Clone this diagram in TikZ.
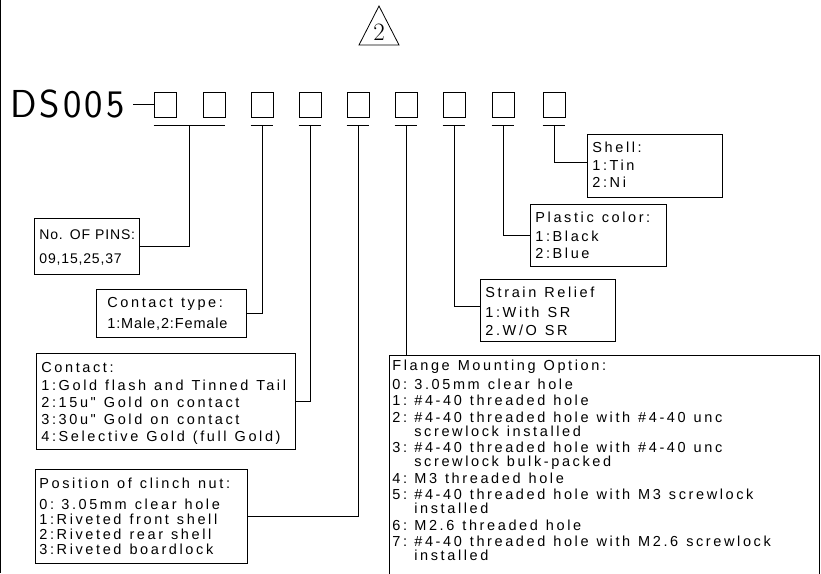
\documentclass[tikz,border=0pt]{standalone}
\usepackage{fontspec}
\newfontfamily\cadfont{Liberation Sans}[LetterSpace=18]
\newfontfamily\cadtight{Liberation Sans}[LetterSpace=6]
\newfontfamily\dsfont{Latin Modern Sans}[LetterSpace=8]
\newcommand\widesp{\setlength{\spaceskip}{8pt plus 1pt}}
\newcommand\narrowsp{\setlength{\spaceskip}{5pt plus 1pt}}
\usetikzlibrary{calc}
\begin{document}
\begin{tikzpicture}[x=1pt,y=-1pt,line width=0.8pt,
  cell/.style={draw,minimum width=22pt,minimum height=25pt,inner sep=0pt},
  infobox/.style={draw,anchor=north west,inner sep=0pt},
  boxtext/.style={anchor=base west,inner sep=0pt,align=left,text width=420pt,
    font=\cadfont\fontsize{14.5}{17}\selectfont}]
\useasboundingbox (0,0) rectangle (821,573);
\clip (0,0) rectangle (821,573);
% left border
\draw (0.5,0) -- (0.5,573);
% revision triangle
\draw (379,6) -- (359,45) -- (399,45) -- cycle;
\node[inner sep=0pt,font=\rmfamily\fontsize{25}{25}\selectfont] (rev) at (379,32) {2};
% part number
\node[anchor=base west,inner sep=0pt,font=\dsfont\fontsize{39}{39}\selectfont] (ds) at (10,117) {DS005};
\foreach \i/\x in {1/165,2/214,3/262,4/310,5/358,6/406,7/454,8/503,9/554}
  \node[cell] (b\i) at (\x,104.5) {};
\draw[shorten <=8pt] (ds.east |- b1.west) -- (b1.west);
% tee bars
\draw ($(b1.south west)+(0,8)$) -- ($(b2.south east)+(0,8)$);
\coordinate (t1) at ($(b1.south)!0.5!(b2.south)+(0,8)$);
\foreach \i in {3,...,9}{
  \draw ($(b\i.south west)+(0,8)$) -- ($(b\i.south east)+(0,8)$);
  \coordinate (t\i) at ($(b\i.south)+(0,8)$);
}
% info boxes
\node[infobox,minimum width=105pt,minimum height=56pt] (pins) at (34,218) {};
\node[infobox,minimum width=150pt,minimum height=48pt] (ctype) at (96,289) {};
\node[infobox,minimum width=259pt,minimum height=96pt] (contact) at (36,353) {};
\node[infobox,minimum width=212pt,minimum height=94pt] (position) at (35,469) {};
\node[infobox,minimum width=430pt,minimum height=240pt] (flange) at (389,355) {};
\node[infobox,minimum width=135pt,minimum height=62pt] (strain) at (480,279) {};
\node[infobox,minimum width=136pt,minimum height=62pt] (plastic) at (530,204) {};
\node[infobox,minimum width=135pt,minimum height=63pt] (shell) at (587,134) {};
% texts
\node[boxtext,font=\cadtight\fontsize{14}{17}\selectfont] (pinsT) at (39,239) {\narrowsp No. OF PINS:\\[7pt]09,15,25,37};
\node[boxtext] (ctypeT) at (107,307) {\widesp Contact type:\\[4pt]{\cadtight\fontsize{14.5}{17}\selectfont 1:Male,2:Female}};
\node[boxtext] (contactT) at (41,372) {\widesp Contact:\\[1pt]1:Gold flash and Tinned Tail\\2:15u" Gold on contact\\3:30u" Gold on contact\\4:Selective Gold (full Gold)};
\node[boxtext] (positionT) at (39,488) {\widesp Position of clinch nut:\\[4pt]0: 3.05mm clear hole\\[-2pt]1:Riveted front shell\\[-2pt]2:Riveted rear shell\\[-2pt]3:Riveted boardlock};
\node[boxtext,font=\cadfont\fontsize{14.5}{16.5}\selectfont] (flangeT) at (392,370) {\widesp Flange Mounting Option:\\[2.5pt]
0: 3.05mm clear hole\\
1: \#4-40 threaded hole\\
2: \#4-40 threaded hole with \#4-40 unc\\[-2.5pt]
\phantom{2: }screwlock installed\\
3: \#4-40 threaded hole with \#4-40 unc\\[-2.5pt]
\phantom{3: }screwlock bulk-packed\\
4: M3 threaded hole\\
5: \#4-40 threaded hole with M3 screwlock\\[-2.5pt]
\phantom{5: }installed\\
6: M2.6 threaded hole\\
7: \#4-40 threaded hole with M2.6 screwlock\\[-2.5pt]
\phantom{7: }installed};
\node[boxtext] (strainT) at (485,297) {\widesp Strain Relief\\[3pt]1:With SR\\[1pt]2.W/O SR};
\node[boxtext] (plasticT) at (535,222) {\widesp Plastic color:\\[2pt]1:Black\\[0pt]2:Blue};
\node[boxtext] (shellT) at (592,152) {\widesp Shell:\\[1pt]1:Tin\\[0pt]2:Ni};
% connectors
\draw (t1) |- (pins.east);
\draw (t3) |- (ctype.east);
\draw (t4) |- (contact.east);
\draw (t5) |- (position.east);
\draw (t6) -- (t6 |- flange.north);
\draw (t7) |- ([yshift=4pt]strain.west);
\draw (t8) |- (plastic.west);
\draw (t9) |- ([yshift=4pt]shell.west);
\end{tikzpicture}
\end{document}
